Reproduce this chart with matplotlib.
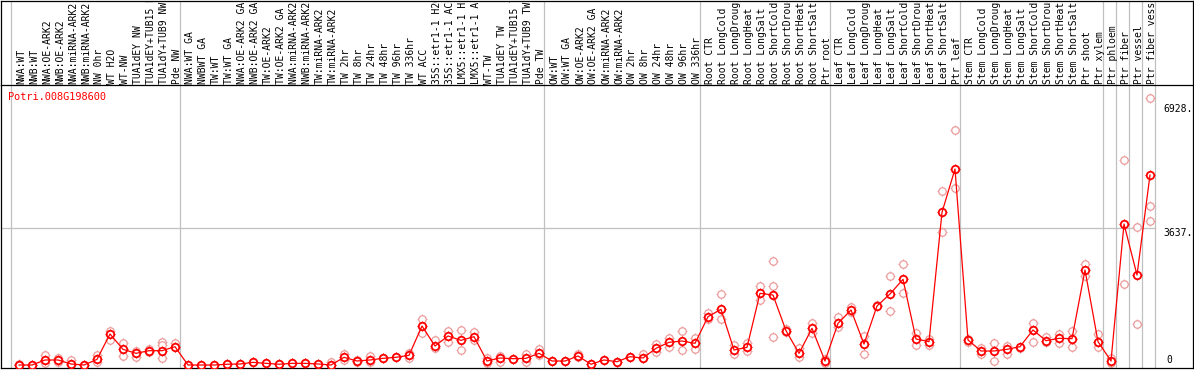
import matplotlib
matplotlib.use('Agg')
import matplotlib.pyplot as plt
import numpy as np

# sample labels (header, left to right)
samples = [
    "NWA:WT", "NWB:WT", "NWA:OE-ARK2", "NWB:OE-ARK2", "NWA:miRNA-ARK2", "NWB:miRNA-ARK2",
    "NW 0hr", "WT H2O", "WT-NW", "TUA1dEY NW", "TUA1dEY+TUB15 NW", "TUA1dY+TUB9 NW", "Pde NW",
    "NWA:WT GA", "NWBWT GA", "TW:WT", "TW:WT GA", "NWA:OE-ARK2 GA", "NWB:OE-ARK2 GA",
    "TW:OE-ARK2", "TW:OE-ARK2 GA", "NWA:miRNA-ARK2 GA", "NWB:miRNA-ARK2 GA", "TW:miRNA-ARK2",
    "TW:miRNA-ARK2", "TW 2hr", "TW 8hr", "TW 24hr", "TW 48hr", "TW 96hr", "TW 336hr", "WT ACC",
    "35S::etr1-1 H2O", "35S::etr1-1 ACC", "LMX5::etr1-1 H2O", "LMX5::etr1-1 ACC", "WT-TW",
    "TUA1dEY TW", "TUA1dEY+TUB15 TW", "TUA1dY+TUB9 TW", "Pde TW",
    "OW:WT", "OW:WT GA", "OW:OE-ARK2", "OW:OE-ARK2 GA", "OW:miRNA-ARK2", "OW:miRNA-ARK2",
    "OW 2hr", "OW 8hr", "OW 24hr", "OW 48hr", "OW 96hr", "OW 336hr",
    "Root CTR", "Root LongCold", "Root LongDrought", "Root LongHeat", "Root LongSalt",
    "Root ShortCold", "Root ShortDrought", "Root ShortHeat", "Root ShortSalt", "Ptr root",
    "Leaf CTR", "Leaf LongCold", "Leaf LongDrought", "Leaf LongHeat", "Leaf LongSalt",
    "Leaf ShortCold", "Leaf ShortDrought", "Leaf ShortHeat", "Leaf ShortSalt", "Ptr leaf",
    "Stem CTR", "Stem LongCold", "Stem LongDrought", "Stem LongHeat", "Stem LongSalt",
    "Stem ShortCold", "Stem ShortDrought", "Stem ShortHeat", "Stem ShortSalt", "Ptr shoot", "Ptr xylem",
    "Ptr phloem", "Ptr fiber", "Ptr vessel", "Ptr fiber vessel",
]

# mean expression per sample
means = [
    0, 0, 133, 133, 27, 0, 150, 823, 416, 310, 380, 380, 486,
    0, 0, 0, 20, 27, 70, 44, 20, 44, 44, 27, 0, 204, 106, 133, 177, 204, 257, 1035,
    504, 770, 655, 752, 106, 186, 168, 177, 310,
    106, 106, 239, 20, 133, 88, 221, 186, 443, 602, 637, 575,
    1283, 1478, 398, 469, 1903, 1858, 911, 310, 974, 106,
    1106, 1460, 557, 1566, 1885, 2275, 690, 620, 4054, 5203,
    664, 372, 372, 416, 487, 929, 646, 708, 699, 2522, 620,
    106, 3743, 2389, 5044,
]

# replicate values per sample
replicates = [
    [0, 20], [0], [265, 50, 120], [180, 90], [120, 0], [0], [265, 90], [900, 664], [575, 240],
    [360, 220], [420, 340], [620, 530, 177], [592, 480],
    [0], [0], [0], [20], [27], [70], [44], [20], [44], [44], [27], [80, 0], [290, 120],
    [140, 70], [230, 80], [177], [204], [180, 320], [1221, 841],
    [664, 460], [911, 620], [929, 398], [885, 664], [177, 50], [250, 80], [168], [292, 90], [416, 260],
    [106], [106], [280, 220], [20], [133], [88], [221], [292, 186], [557, 354], [708, 487],
    [903, 398], [708, 434],
    [1371, 1230], [1894, 1212], [531, 292], [575, 380], [2097, 1725], [2761, 2097, 735],
    [950, 870], [443, 204], [1106, 841], [44, 150],
    [1265, 1000], [1549, 1420], [770, 283], [1600], [2363, 1434], [2673, 1903], [841, 531],
    [700, 530], [4619, 3540], [6239, 4690],
    [700, 620], [440, 300], [575, 106], [513, 292], [440], [1123, 602], [752, 620],
    [823, 575], [911, 469], [2681, 2363], [823, 487],
    [177, 44], [5442, 2150], [3672, 1080], [7080, 4229, 3815],
]

# first sample index of each group (vertical separators)
group_starts = [0, 13, 41, 53, 63, 73, 84, 85, 86, 87, 88]
gene = "Potri.008G198600"

W, H = 1194, 370
fig = plt.figure(figsize=(W / 100, H / 100), dpi=100)

# pixel helpers: column i sits at px 19 + 13*i, value 0 at px 365
def xpx(p):
    return (p - 19) / 13.0

def ypx(p):
    return (365 - p) / 0.03767

x0, x1 = xpx(1), xpx(1193)
ax = fig.add_axes([1 / W, (H - 368) / H, 1192 / W, 283 / H])
hx = fig.add_axes([1 / W, 285 / H, 1192 / W, 84.5 / H])

grey = '#c0c0c0'
mono = 'DejaVu Sans Mono'
pink = '#ec9a9a'

x = np.arange(len(samples))

# separators + grid
for g in group_starts:
    xs = g - 8 / 13.0
    ax.axvline(xs, color=grey, lw=0.9, zorder=1)
    hx.axvline(xs, color=grey, lw=0.9, zorder=1)
ax.plot([x0, xpx(1155)], [3637, 3637], color=grey, lw=0.9, zorder=1)

# replicates (circle with small ticks outside)
for i, reps in enumerate(replicates):
    ax.plot([i] * len(reps), reps, linestyle='none', marker='+', ms=7.6,
            mec=pink, mew=0.7, zorder=2)
for i, reps in enumerate(replicates):
    ax.plot([i] * len(reps), reps, linestyle='none', marker='o', ms=5.4,
            mfc='white', mec=pink, mew=0.9, zorder=2.2)

# mean markers: tick cross, white disc, then line, then ring
ax.plot(x, means, linestyle='none', marker='+', ms=7.8, mec='red', mew=0.8, zorder=3)
ax.plot(x, means, linestyle='none', marker='o', ms=5.4, mfc='white', mec='none', zorder=3.1)
ax.plot(x, means, color='red', lw=0.9, zorder=3.2)
ax.plot(x, means, linestyle='none', marker='o', ms=5.4, mfc='none', mec='red', mew=1.3, zorder=4)

ax.set_xlim(x0, x1)
ax.set_ylim(ypx(368), ypx(85))
ax.set_xticks([])
ax.set_yticks([])
ax.spines['top'].set_visible(False)
for s in ['left', 'right', 'bottom']:
    ax.spines[s].set_linewidth(0.9)

ax.text(xpx(8), ypx(97), gene, color='red', family=mono, fontsize=7.4, va='center', ha='left')
ax.text(xpx(1163), 6928, "6928.", family=mono, fontsize=7.0, va='top', ha='left')
ax.text(xpx(1163), 3637, "3637.", family=mono, fontsize=7.0, va='top', ha='left')
ax.text(xpx(1166), 0, "0", family=mono, fontsize=7.0, va='bottom', ha='left')

# header labels
hx.set_xlim(x0, x1)
hx.set_ylim(0, 84.5)
hx.set_xticks([])
hx.set_yticks([])
for s in hx.spines.values():
    s.set_linewidth(0.9)
for i, lab in enumerate(samples):
    hx.text(i + 0.17, 1.5, lab, rotation=90, ha='center', va='bottom',
            family=mono, fontsize=7.0, clip_on=True)

fig.savefig('out.png', dpi=100)
